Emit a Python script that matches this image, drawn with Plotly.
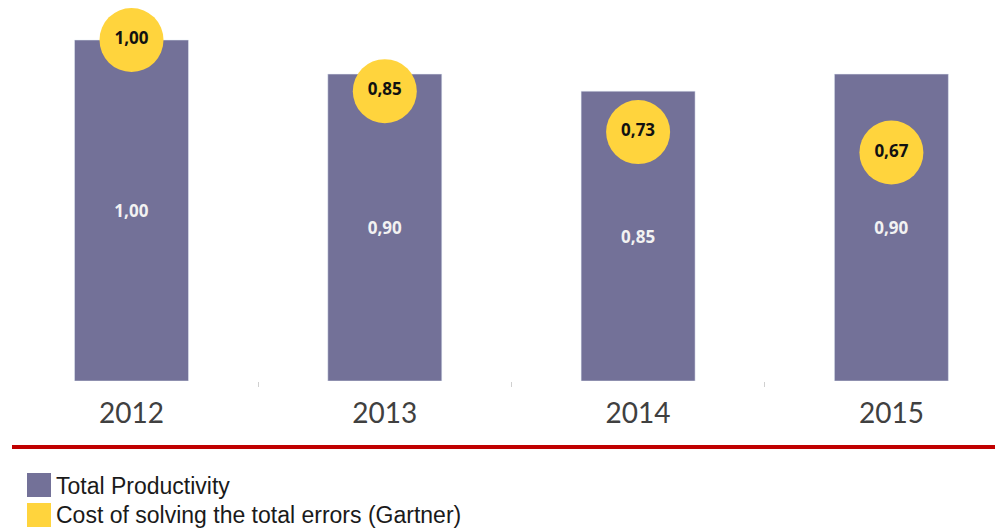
import plotly.graph_objects as go

years = ["2012", "2013", "2014", "2015"]
productivity = [1.00, 0.90, 0.85, 0.90]
cost_errors = [1.00, 0.85, 0.73, 0.67]
legend_labels = ["Total Productivity", "Cost of solving the total errors (Gartner)"]

BAR_COLOR = "#737198"
YEL_COLOR = "#FFD43D"

# page body has an 8px margin, so the figure is drawn 8px smaller and coordinates shifted
OFF = 8
W, H = 1003 - OFF, 528 - OFF
L, R, T, B = 0, 0, 1, 147
pw, ph = W - L - R, H - T - B
UNIT = 341.0  # pixels per 1.0 value

def px_x(x):
    return (x - OFF - L) / pw

def px_y(y):
    return (H - B - (y - OFF)) / ph

def fmt(v):
    return f"{v:.2f}".replace(".", ",")

fig = go.Figure()
fig.add_trace(go.Bar(
    x=years, y=productivity, width=0.45, marker_color=BAR_COLOR,
    text=[fmt(v) for v in productivity], textposition="inside",
    insidetextanchor="middle",
    textfont=dict(color="#F2F2F2", size=17, family="Open Sans", weight="bold"),
    showlegend=False, hoverinfo="skip",
))
fig.add_trace(go.Scatter(
    x=years, y=cost_errors, mode="markers+text",
    marker=dict(size=64, color=YEL_COLOR, line=dict(width=0)),
    text=[fmt(v) for v in cost_errors], textposition="middle center",
    textfont=dict(color="#111111", size=17, family="Open Sans", weight="bold"),
    showlegend=False, hoverinfo="skip", cliponaxis=False,
))

shapes = [
    dict(type="line", xref="paper", yref="paper", x0=px_x(12), x1=px_x(1020),
         y0=px_y(447), y1=px_y(447), line=dict(color="#C00000", width=4)),
]
annotations = []
leg_colors = [BAR_COLOR, YEL_COLOR]
leg_sq = [(473, 497), (503, 527)]
leg_text_y = [486, 515]
for lab, col, (sy0, sy1), ty in zip(legend_labels, leg_colors, leg_sq, leg_text_y):
    shapes.append(dict(type="rect", xref="paper", yref="paper",
                       x0=px_x(27), x1=px_x(51), y0=px_y(sy1), y1=px_y(sy0),
                       fillcolor=col, line=dict(width=0)))
    annotations.append(dict(xref="paper", yref="paper", x=px_x(54), y=px_y(ty),
                            xanchor="left", yanchor="middle", text=lab, showarrow=False,
                            font=dict(family="Liberation Sans", size=23, color="#1a1a1a")))

left_edge = 8
center0 = 131.5
step = 253.3
x0 = (left_edge - center0) / step
x1 = 3 + (1003 - (center0 + 3 * step)) / step

fig.update_layout(
    width=W, height=H,
    margin=dict(l=L, r=R, t=T, b=B),
    plot_bgcolor="white", paper_bgcolor="white",
    shapes=shapes, annotations=annotations,
    xaxis=dict(range=[x0, x1], tickson="boundaries", ticks="outside",
               ticklen=5, tickcolor="#d0d0d0", tickwidth=1, showgrid=False,
               showline=False, zeroline=False,
               tickfont=dict(family="Lato", size=28, color="#404040"),
               ticklabelstandoff=13),
    yaxis=dict(range=[0, ph / UNIT], visible=False, showgrid=False, zeroline=False),
)

fig.write_html("out.html")
